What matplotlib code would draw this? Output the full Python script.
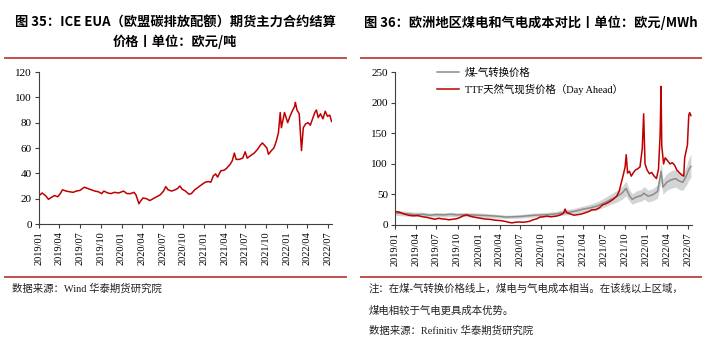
import pandas as pd
import matplotlib.pyplot as plt
import matplotlib.dates as mdates
from matplotlib.lines import Line2D

# 图35 ICE EUA 期货主力合约结算价（欧元/吨）
eua_dates = ['2019-01-02', '2019-01-15', '2019-02-01', '2019-02-12', '2019-02-25', '2019-03-10',
             '2019-03-25', '2019-04-05', '2019-04-15', '2019-05-01', '2019-05-15', '2019-06-01',
             '2019-06-15', '2019-07-01', '2019-07-20', '2019-08-05', '2019-08-20', '2019-09-05',
             '2019-09-20', '2019-10-05', '2019-10-15', '2019-11-01', '2019-11-15', '2019-12-01',
             '2019-12-20', '2020-01-10', '2020-01-25', '2020-02-10', '2020-02-25', '2020-03-05',
             '2020-03-18', '2020-03-25', '2020-04-05', '2020-04-20', '2020-05-05', '2020-05-20',
             '2020-06-05', '2020-06-20', '2020-07-05', '2020-07-15', '2020-07-25', '2020-08-10',
             '2020-08-25', '2020-09-05', '2020-09-15', '2020-09-25', '2020-10-10', '2020-10-25',
             '2020-11-05', '2020-11-20', '2020-12-05', '2020-12-20', '2021-01-05', '2021-01-20',
             '2021-01-30', '2021-02-10', '2021-02-20', '2021-03-01', '2021-03-15', '2021-03-30',
             '2021-04-10', '2021-04-25', '2021-05-05', '2021-05-14', '2021-05-22', '2021-06-05',
             '2021-06-20', '2021-07-01', '2021-07-10', '2021-07-25', '2021-08-10', '2021-08-25',
             '2021-09-05', '2021-09-15', '2021-09-25', '2021-10-05', '2021-10-12', '2021-10-25',
             '2021-11-05', '2021-11-15', '2021-11-25', '2021-12-03', '2021-12-08', '2021-12-15',
             '2021-12-22', '2022-01-05', '2022-01-15', '2022-01-25', '2022-02-05', '2022-02-08',
             '2022-02-15', '2022-02-25', '2022-03-07', '2022-03-15', '2022-03-25', '2022-04-05',
             '2022-04-15', '2022-04-25', '2022-05-05', '2022-05-12', '2022-05-20', '2022-05-30',
             '2022-06-10', '2022-06-20', '2022-06-30', '2022-07-10', '2022-07-18']
eua_price = [22.5, 24.5, 22, 19.5, 21, 22.5,
             21.5, 24, 27, 26, 25.5, 25,
             26, 26.5, 29, 28, 27, 26,
             25.5, 24, 26, 24.5, 24, 25,
             24.5, 26, 24, 24, 25, 23,
             16, 18, 20.5, 20, 18.5, 20,
             21.5, 23, 26, 29.5, 27, 26,
             27, 28, 30, 27.5, 26, 23.5,
             24, 27, 29, 31, 33, 33.5,
             33, 38, 39.5, 37, 42, 42.5,
             44, 47, 50, 56, 51, 51,
             52, 57, 52, 54, 56, 59,
             62, 64, 62, 60, 55, 58,
             60, 65, 72, 88, 76, 82,
             88, 80, 85, 89, 93, 96,
             90, 87, 58, 76, 79, 80,
             78, 83, 88, 90, 84, 87,
             83, 89, 85, 86, 81]

# 图36 TTF 天然气现货价格（欧元/MWh）
ttf_dates = ['2019-01-02', '2019-01-20', '2019-02-10', '2019-03-01', '2019-03-20', '2019-04-10',
             '2019-05-01', '2019-05-20', '2019-06-10', '2019-06-25', '2019-07-10', '2019-07-25',
             '2019-08-10', '2019-08-25', '2019-09-10', '2019-09-25', '2019-10-10', '2019-10-25',
             '2019-11-10', '2019-11-25', '2019-12-10', '2019-12-25', '2020-01-10', '2020-01-25',
             '2020-02-10', '2020-02-25', '2020-03-10', '2020-03-25', '2020-04-10', '2020-04-25',
             '2020-05-10', '2020-05-25', '2020-06-10', '2020-06-25', '2020-07-10', '2020-07-25',
             '2020-08-10', '2020-08-25', '2020-09-10', '2020-09-25', '2020-10-10', '2020-10-25',
             '2020-11-10', '2020-11-25', '2020-12-10', '2020-12-25', '2021-01-05', '2021-01-12',
             '2021-01-20', '2021-02-05', '2021-02-20', '2021-03-10', '2021-03-25', '2021-04-10',
             '2021-04-25', '2021-05-10', '2021-05-25', '2021-06-10', '2021-06-25', '2021-07-10',
             '2021-07-25', '2021-08-10', '2021-08-25', '2021-09-05', '2021-09-15', '2021-09-25',
             '2021-10-01', '2021-10-06', '2021-10-12', '2021-10-20', '2021-10-28', '2021-11-05',
             '2021-11-15', '2021-11-25', '2021-12-05', '2021-12-15', '2021-12-21', '2021-12-27',
             '2022-01-05', '2022-01-15', '2022-01-25', '2022-02-05', '2022-02-15', '2022-02-24',
             '2022-03-03', '2022-03-07', '2022-03-10', '2022-03-18', '2022-03-25', '2022-04-05',
             '2022-04-15', '2022-04-25', '2022-05-05', '2022-05-15', '2022-05-25', '2022-06-05',
             '2022-06-14', '2022-06-18', '2022-06-30', '2022-07-06', '2022-07-10', '2022-07-15']
ttf_price = [22, 21, 18, 16, 15, 15.5,
             13.5, 12.5, 10.5, 9.5, 11, 10,
             9.5, 8.5, 9.5, 10, 12, 15,
             16.5, 14.5, 13, 12, 11, 10,
             9.5, 9, 8, 7.5, 7, 6,
             4.5, 3.5, 4.5, 5, 4.5, 5,
             6, 8.5, 10, 13, 13.5, 14.5,
             13.5, 14, 15, 17, 19, 26,
             20, 18, 16, 17, 18, 20,
             22, 25, 25, 28, 33, 35,
             38, 42, 47, 55, 70, 85,
             95, 115, 85, 88, 80, 85,
             90, 92, 95, 125, 182, 100,
             90, 84, 86, 80, 76, 92,
             150, 227, 130, 100, 110, 105,
             100, 102, 98, 90, 86, 82,
             80, 110, 131, 180, 184, 179]

# 煤-气转换价格及区间
switch_dates = ['2019-01-02', '2019-02-01', '2019-03-01', '2019-04-01', '2019-05-01', '2019-06-01',
                '2019-07-01', '2019-08-01', '2019-09-01', '2019-10-01', '2019-11-01', '2019-12-01',
                '2020-01-01', '2020-02-01', '2020-03-01', '2020-04-01', '2020-05-01', '2020-06-01',
                '2020-07-01', '2020-08-01', '2020-09-01', '2020-10-01', '2020-11-01', '2020-12-01',
                '2021-01-01', '2021-02-01', '2021-03-01', '2021-04-01', '2021-05-01', '2021-06-01',
                '2021-07-01', '2021-08-01', '2021-09-01', '2021-09-20', '2021-10-05', '2021-10-20',
                '2021-11-01', '2021-11-20', '2021-12-10', '2021-12-22', '2022-01-10', '2022-02-01',
                '2022-02-20', '2022-03-07', '2022-03-15', '2022-04-01', '2022-04-20', '2022-05-10',
                '2022-05-25', '2022-06-10', '2022-06-25', '2022-07-05', '2022-07-15']
switch_mid = [20, 19, 18, 17, 17.5, 16,
              17, 16.5, 17.5, 16.5, 17, 16.5,
              16, 15.5, 15, 14, 13, 13.5,
              14, 15, 16, 16.5, 17, 18,
              20, 21, 23, 26, 28, 31,
              36, 42, 48, 53, 60, 48,
              42, 46, 48, 52, 47, 50,
              55, 88, 62, 70, 74, 76,
              72, 70, 80, 90, 96]
switch_low = [16, 15, 14.5, 14, 14, 13,
              13.5, 13, 14, 13, 13.5, 13,
              13, 12.5, 12, 11.5, 10.5, 11,
              11, 12, 13, 13, 13.5, 14.5,
              16, 17, 18.5, 21, 22.5, 25,
              29, 34, 38.5, 43, 48, 39,
              34, 37, 39, 42, 38, 40,
              44, 72, 50, 57, 60, 62,
              58, 57, 65, 73, 78]
switch_high = [24, 23, 22, 21, 21, 19.5,
               20.5, 20, 21, 20, 20.5, 20,
               19.5, 19, 18, 17, 16, 16.5,
               17, 18.5, 19.5, 20, 21, 22,
               24.5, 26, 28, 31, 34, 38,
               44, 51, 58, 64, 72, 58,
               51, 56, 58, 63, 57, 60,
               66, 102, 75, 84, 89, 91,
               86, 84, 96, 108, 116]

plt.rcParams['font.family'] = ['Liberation Serif', 'Noto Sans CJK SC']
plt.rcParams['axes.unicode_minus'] = False

W, H = 708, 343
fig = plt.figure(figsize=(W / 100, H / 100), dpi=100)
fig.patch.set_facecolor('white')

red = '#C00000'
sep_color = '#C0504D'
title_font = dict(family=['Noto Sans CJK SC'], weight='bold', size=9.5)


def px(x, y):
    return x / W, 1 - y / H


def frame(ax, ymax, ystep, xend):
    for s in ('top', 'right'):
        ax.spines[s].set_visible(False)
    for s in ('left', 'bottom'):
        ax.spines[s].set_color('#404040')
        ax.spines[s].set_linewidth(0.8)
    ax.set_ylim(0, ymax)
    ax.set_yticks(range(0, ymax + 1, ystep))
    ax.set_xlim(pd.Timestamp('2019-01-01'), pd.Timestamp(xend))
    ax.xaxis.set_major_locator(mdates.MonthLocator(bymonth=[1, 4, 7, 10]))
    ax.xaxis.set_major_formatter(mdates.DateFormatter('%Y/%m'))
    ax.tick_params(axis='both', direction='out', length=3, width=0.8, color='#404040', pad=2)
    ax.tick_params(axis='y', labelsize=8)
    ax.tick_params(axis='x', labelsize=7.5, labelrotation=90)


# 左图
ax1 = fig.add_axes([39 / W, 1 - 224 / H, 293 / W, 152 / H])
ax1.plot(pd.to_datetime(eua_dates), eua_price, color=red, lw=1.1)
frame(ax1, 120, 20, '2022-07-20')

# 右图
ax2 = fig.add_axes([395 / W, 1 - 225 / H, 297 / W, 152.7 / H])
sd = pd.to_datetime(switch_dates)
ax2.fill_between(sd, switch_low, switch_high, color='#D4D4D4', lw=0)
ax2.plot(sd, switch_mid, color='#8C8C8C', lw=1.1, label='煤-气转换价格')
ax2.plot(pd.to_datetime(ttf_dates), ttf_price, color=red, lw=1.1,
         label='TTF天然气现货价格（Day Ahead）')
frame(ax2, 250, 50, '2022-07-20')
ax2.legend(loc='upper left', bbox_to_anchor=(0.14, 1.03), frameon=False, fontsize=7.5,
           handlelength=2.2, handletextpad=0.5, borderpad=0, borderaxespad=0, labelspacing=0.55)

# 标题
fig.text(*px(175, 23), '图 35：ICE EUA（欧盟碳排放配额）期货主力合约结算', ha='center', va='center', **title_font)
fig.text(*px(175, 42), '价格丨单位：欧元/吨', ha='center', va='center', **title_font)
fig.text(*px(531, 23), '图 36：欧洲地区煤电和气电成本对比丨单位：欧元/MWh', ha='center', va='center', **title_font)

# 分隔线
for x0, x1 in ((5, 346), (361, 701)):
    for y in (58, 277):
        fig.add_artist(Line2D([x0 / W, x1 / W], [1 - y / H, 1 - y / H], transform=fig.transFigure,
                              color=sep_color, lw=1.4))

# 注释与来源
fig.text(*px(12, 289), '数据来源：Wind 华泰期货研究院', ha='left', va='center', fontsize=7.5, color='#222222')
fig.text(*px(369, 289), '注：在煤-气转换价格线上，煤电与气电成本相当。在该线以上区域，', ha='left', va='center',
         fontsize=7.5, color='#222222')
fig.text(*px(369, 311), '煤电相较于气电更具成本优势。', ha='left', va='center', fontsize=7.5, color='#222222')
fig.text(*px(369, 331), '数据来源：Refinitiv 华泰期货研究院', ha='left', va='center', fontsize=7.5, color='#222222')

fig.savefig('out.png', dpi=100, facecolor='white')
